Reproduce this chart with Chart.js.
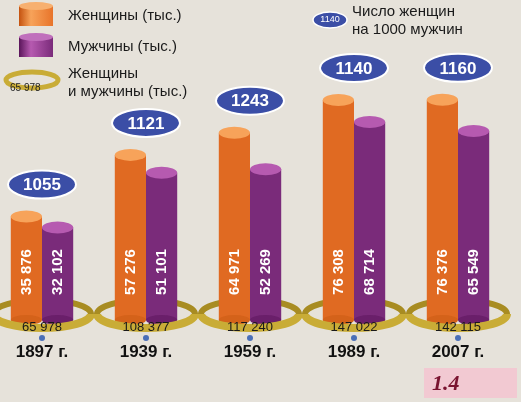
<!DOCTYPE html>
<html>
<head>
<meta charset="UTF-8">
<script src="https://cdn.jsdelivr.net/npm/chart.js@4/dist/chart.umd.min.js"></script>
<style>
  * { margin: 0; padding: 0; box-sizing: border-box; }
  body { width: 521px; height: 402px; overflow: hidden; background: #e6e2da; font-family: "Liberation Sans", Arial, sans-serif; position: relative; }
  #wrap { position: absolute; left: -10px; top: 0; width: 531px; height: 402px; }
</style>
</head>
<body>
<div id="wrap"><canvas id="c"></canvas></div>
<script>
const years = ['1897 г.', '1939 г.', '1959 г.', '1989 г.', '2007 г.'];
const women = [35876, 57276, 64971, 76308, 76376];
const men = [32102, 51101, 52269, 68714, 65549];
const ratio = [1055, 1121, 1243, 1140, 1160];
const totals = [65978, 108377, 117240, 147022, 142115];

const fmt = v => String(v).replace(/\B(?=(\d{3})+(?!\d))/g, ' ');

function ellipse(ctx, x, y, rx, ry) {
  ctx.beginPath();
  ctx.ellipse(x, y, rx, ry, 0, 0, Math.PI * 2);
}

function cylGrad(ctx, x, w, dark, mid, light) {
  const g = ctx.createLinearGradient(x - w / 2, 0, x + w / 2, 0);
  g.addColorStop(0, dark); g.addColorStop(0.35, light); g.addColorStop(1, mid);
  return g;
}

function barFill(dark, mid, light) {
  return c => {
    const x = c.element && c.element.x;
    if (!Number.isFinite(x)) return mid;
    return cylGrad(c.chart.ctx, x, c.element.width || 30, dark, mid, light);
  };
}

const decor = {
  id: 'decor',
  beforeDatasetsDraw(chart) {
    const ctx = chart.ctx;
    const m0 = chart.getDatasetMeta(0).data, m1 = chart.getDatasetMeta(1).data;
    m0.forEach((b, i) => {
      const cx = (b.x + m1[i].x) / 2;
      ctx.save();
      ctx.lineWidth = 6;
      ctx.strokeStyle = '#a88c22';
      ctx.beginPath();
      ctx.ellipse(cx, 314, 49, 14, 0, Math.PI, Math.PI * 2);
      ctx.stroke();
      ctx.restore();
    });
  },
  afterDatasetsDraw(chart) {
    const ctx = chart.ctx;
    const m0 = chart.getDatasetMeta(0).data, m1 = chart.getDatasetMeta(1).data;
    [m0, m1].forEach((meta, d) => meta.forEach((b, i) => {
      const w = b.width;
      ctx.save();
      ctx.fillStyle = d === 0 ? '#f7a35a' : '#b65ab0';
      ellipse(ctx, b.x, b.y, w / 2, 6); ctx.fill();
      ctx.fillStyle = d === 0 ? '#d4621a' : '#6a1f6a';
      ellipse(ctx, b.x, b.base, w / 2, 5); ctx.fill();
      ctx.translate(b.x, b.base - 48);
      ctx.rotate(-Math.PI / 2);
      ctx.fillStyle = '#fff';
      ctx.font = 'bold 15px "Liberation Sans", Arial';
      ctx.textAlign = 'center'; ctx.textBaseline = 'middle';
      ctx.fillText(fmt((d === 0 ? women : men)[i]), 0, 0);
      ctx.restore();
    }));
    m0.forEach((b, i) => {
      const cx = (b.x + m1[i].x) / 2;
      ctx.save();
      ctx.lineWidth = 8;
      ctx.strokeStyle = '#c9ac36';
      ctx.beginPath();
      ctx.ellipse(cx, 314, 49, 14, 0, 0, Math.PI);
      ctx.stroke();
      ctx.fillStyle = '#1a1a1a';
      ctx.font = '13px "Liberation Sans", Arial';
      ctx.textAlign = 'center'; ctx.textBaseline = 'middle';
      ctx.fillText(fmt(totals[i]), cx, 327);
      ctx.fillStyle = '#4a6fb8';
      ellipse(ctx, cx, 338, 3, 3); ctx.fill();
      const by = b.y - 32;
      ctx.fillStyle = '#3b4ea6';
      ctx.strokeStyle = '#fff';
      ctx.lineWidth = 2;
      ellipse(ctx, cx, by, 34, 14); ctx.fill(); ctx.stroke();
      ctx.fillStyle = '#fff';
      ctx.font = 'bold 17px "Liberation Sans", Arial';
      ctx.fillText(ratio[i], cx, by + 1);
      ctx.fillStyle = '#111';
      ctx.font = 'bold 17px "Liberation Sans", Arial';
      ctx.fillText(years[i], cx, 352);
      ctx.restore();
    });
  },
  afterDraw(chart) {
    const ctx = chart.ctx;
    ctx.save();
    ctx.translate(10, 0);
    ctx.textBaseline = 'middle';
    ctx.fillStyle = cylGrad(ctx, 36, 34, '#c4520f', '#e8742a', '#f7a35a');
    ctx.fillRect(19, 6, 34, 20);
    ctx.fillStyle = '#f7b070'; ellipse(ctx, 36, 6, 17, 4); ctx.fill();
    ctx.fillStyle = cylGrad(ctx, 36, 34, '#5a155a', '#7a2b7a', '#b65ab0');
    ctx.fillRect(19, 37, 34, 20);
    ctx.fillStyle = '#c070bc'; ellipse(ctx, 36, 37, 17, 4); ctx.fill();
    ctx.strokeStyle = '#c9ac36'; ctx.lineWidth = 5;
    ellipse(ctx, 32, 80, 26, 8); ctx.stroke();
    ctx.fillStyle = '#222'; ctx.font = '10px "Liberation Sans", Arial';
    ctx.fillText('65 978', 10, 88);
    ctx.fillStyle = '#1a1a1a'; ctx.font = '15px "Liberation Sans", Arial';
    ctx.fillText('Женщины (тыс.)', 68, 16);
    ctx.fillText('Мужчины (тыс.)', 68, 47);
    ctx.fillText('Женщины', 68, 74);
    ctx.fillText('и мужчины (тыс.)', 68, 92);
    ctx.fillStyle = '#3b4ea6'; ctx.strokeStyle = '#fff'; ctx.lineWidth = 1.5;
    ellipse(ctx, 330, 20, 17, 8); ctx.fill(); ctx.stroke();
    ctx.fillStyle = '#fff'; ctx.font = '9px "Liberation Sans", Arial'; ctx.textAlign = 'center';
    ctx.fillText('1140', 330, 20);
    ctx.textAlign = 'left'; ctx.fillStyle = '#1a1a1a'; ctx.font = '15px "Liberation Sans", Arial';
    ctx.fillText('Число женщин', 352, 12);
    ctx.fillText('на 1000 мужчин', 352, 30);
    ctx.fillStyle = '#f2c9d2';
    ctx.fillRect(424, 368, 93, 30);
    ctx.fillStyle = '#7a1430';
    ctx.font = 'italic bold 22px "Liberation Serif", serif';
    ctx.fillText('1.4', 432, 384);
    ctx.restore();
  }
};

new Chart(document.getElementById('c'), {
  type: 'bar',
  data: {
    labels: years,
    datasets: [
      { data: women, backgroundColor: barFill('#c4520f', '#e06a22', '#f79a50') },
      { data: men, backgroundColor: barFill('#4e104e', '#7a2b7a', '#a94aa4') }
    ]
  },
  options: {
    responsive: true,
    maintainAspectRatio: false,
    animation: false,
    categoryPercentage: 0.6,
    barPercentage: 1,
    layout: { padding: { left: 0, right: 11, top: 0, bottom: 82 } },
    plugins: { legend: { display: false }, tooltip: { enabled: false } },
    scales: {
      x: { display: false },
      y: { display: false, min: 0, max: 111000 }
    }
  },
  plugins: [decor]
});
</script>
</body>
</html>
